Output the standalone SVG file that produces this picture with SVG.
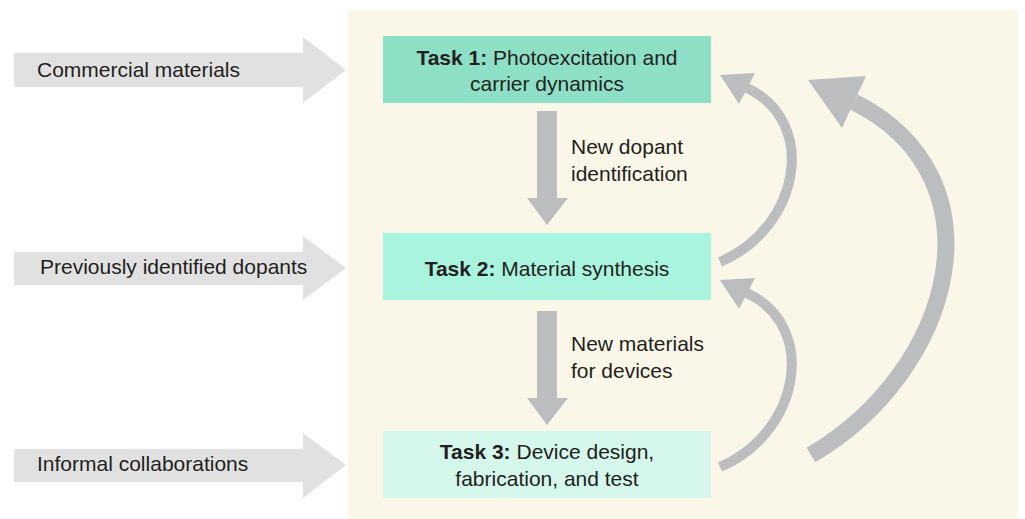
<svg xmlns="http://www.w3.org/2000/svg" width="1025" height="519" viewBox="0 0 1025 519">
<style>
.t{font-family:"Liberation Sans",Arial,sans-serif;font-size:21px;fill:#231f20}
.c{text-anchor:middle}
.b{font-weight:bold}
.in{fill:#e1e1e1}
.ga{fill:#bcbdbf}
.cv{fill:none;stroke:#bcbdbf}
</style>
<rect x="0" y="0" width="1025" height="519" fill="#ffffff"/>
<rect x="348" y="10" width="670" height="509" fill="#faf7e8"/>
<g id="in1"><polygon class="in" points="14,53 303,53 303,37 346,70 303,103 303,87 14,87"/><text class="t" x="37" y="77">Commercial materials</text></g>
<g id="in2"><polygon class="in" points="14,252 303,252 303,236 346,268 303,300 303,285 14,285"/><text class="t" x="40" y="274">Previously identified dopants</text></g>
<g id="in3"><polygon class="in" points="14,449 303,449 303,433 346,465 303,498 303,482 14,482"/><text class="t" x="37" y="471">Informal collaborations</text></g>
<g id="task1"><rect x="383" y="36" width="328" height="67" fill="#8ddfc6"/><text class="t c" x="547" y="65"><tspan class="b">Task 1:</tspan> Photoexcitation and</text><text class="t c" x="547" y="91">carrier dynamics</text></g>
<g id="task2"><rect x="383" y="233" width="328" height="67" fill="#a9f4de"/><text class="t c" x="547" y="276"><tspan class="b">Task 2:</tspan> Material synthesis</text></g>
<g id="task3"><rect x="383" y="431" width="328" height="67" fill="#d5f7ec"/><text class="t c" x="547" y="459"><tspan class="b">Task 3:</tspan> Device design,</text><text class="t c" x="547" y="486">fabrication, and test</text></g>
<g id="connectors">
<polygon class="ga" points="537,111 557,111 557,198 568,198 547,225 527,198 537,198"/>
<text class="t" x="571" y="154">New dopant</text><text class="t" x="571" y="181">identification</text>
<polygon class="ga" points="537,311 557,311 557,398 568,398 547,425 527,398 537,398"/>
<text class="t" x="571" y="351">New materials</text><text class="t" x="571" y="378">for devices</text>
<path class="cv" stroke-width="10" d="M720,262 C800,228 819,122 747,88"/>
<polygon class="ga" points="720,75 755,73 739,104"/>
<path class="cv" stroke-width="10" d="M720,467 C800,433 819,327 747,293"/>
<polygon class="ga" points="720,280 755,278 739,309"/>
<path class="cv" stroke-width="17" d="M811,455 C955,370 1005,178 854,102"/>
<polygon class="ga" points="808,80 866,76 842,128"/>
</g>
</svg>
